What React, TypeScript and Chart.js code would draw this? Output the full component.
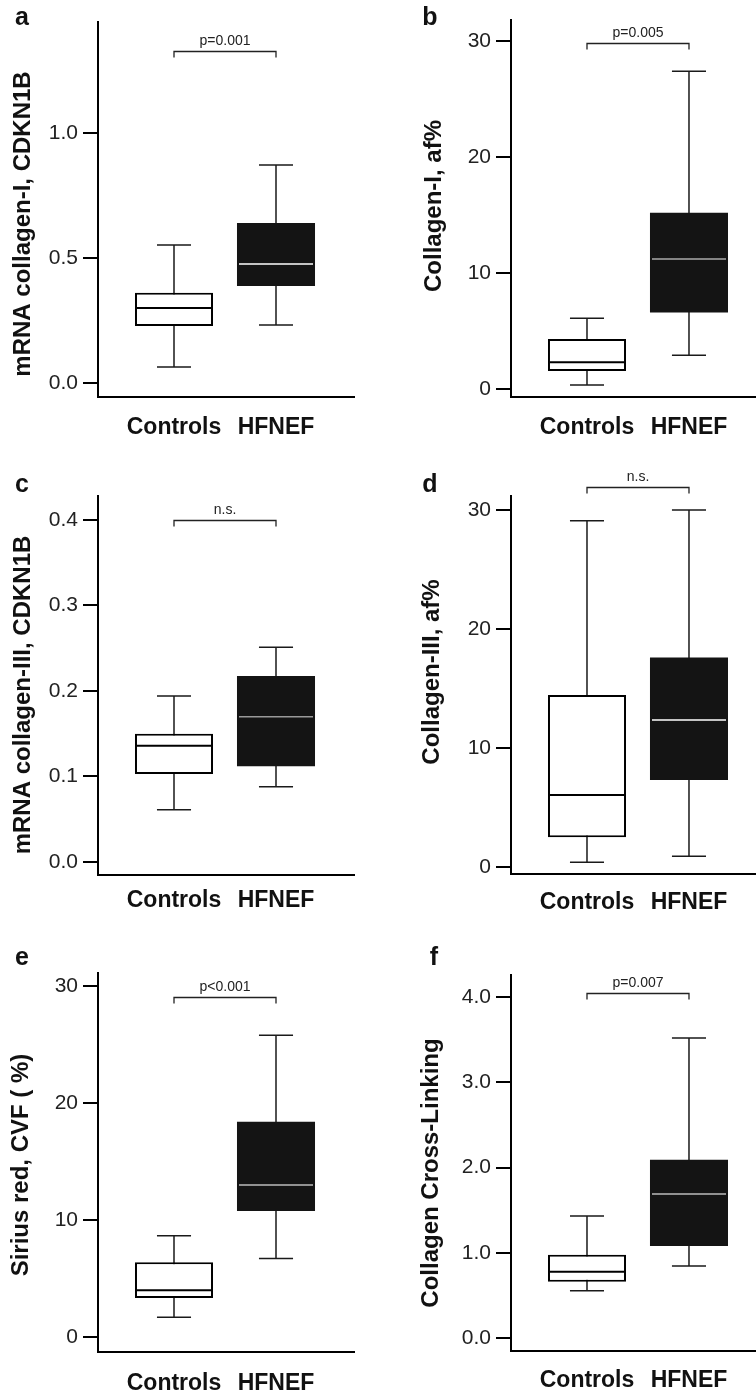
import React, { useEffect, useRef } from 'react';
import { Chart, registerables } from 'chart.js';

Chart.register(...registerables);

// ---- data ----
const GROUPS = ['Controls', 'HFNEF'];
// five-number summaries: [min, Q1, median, Q3, max]
const A_CONTROLS = [0.064, 0.228, 0.3, 0.361, 0.552];
const A_HFNEF = [0.232, 0.388, 0.476, 0.64, 0.872];
const A_TICKS = [0, 0.5, 1.0];

const B_CONTROLS = [0.35, 1.55, 2.3, 4.3, 6.1];
const B_HFNEF = [2.9, 6.6, 11.2, 15.2, 27.4];
const B_TICKS = [0, 10, 20, 30];

const C_CONTROLS = [0.061, 0.103, 0.136, 0.15, 0.194];
const C_HFNEF = [0.088, 0.112, 0.17, 0.2175, 0.251];
const C_TICKS = [0, 0.1, 0.2, 0.3, 0.4];

const D_CONTROLS = [0.4, 2.5, 6.05, 14.45, 29.1];
const D_HFNEF = [0.9, 7.3, 12.35, 17.6, 30.0];
const D_TICKS = [0, 10, 20, 30];

const E_CONTROLS = [1.7, 3.33, 4.0, 6.4, 8.66];
const E_HFNEF = [6.7, 10.77, 13.0, 18.4, 25.8];
const E_TICKS = [0, 10, 20, 30];

const F_CONTROLS = [0.555, 0.66, 0.777, 0.977, 1.43];
const F_HFNEF = [0.845, 1.08, 1.69, 2.09, 3.52];
const F_TICKS = [0, 1, 2, 3, 4];

const P_LABELS = ['p=0.001', 'p=0.005', 'n.s.', 'n.s.', 'p<0.001', 'p=0.007'];
const BRACKET_LEVELS = [1.328, 29.83, 0.4, 31.93, 29.06, 4.047];

// ---- layout / style ----
type Panel = {
  letter: string; title: string; controls: number[]; hfnef: number[];
  ticks: number[]; dec: number; yMin: number; yMax: number; xMax: number;
  p: string; bracket: number; median: string;
  left: number; top: number; w: number; h: number;
  padTop: number; padRight: number; yW: number; xH: number; xPad: number;
  letterX: number; letterY: number; titleX: number; titleY: number;
};

const FONT = '"Liberation Sans", Arial, Helvetica, sans-serif';
const CAP = 0.167;

const PANELS: Panel[] = [
  { letter: 'a', title: 'mRNA collagen-I, CDKN1B', controls: A_CONTROLS, hfnef: A_HFNEF, ticks: A_TICKS, dec: 1,
    yMin: -0.056, yMax: 1.444, xMax: 2.7647, p: P_LABELS[0], bracket: BRACKET_LEVELS[0], median: '#ffffff',
    left: 0, top: 0, w: 378, h: 460, padTop: 22, padRight: 24, yW: 98, xH: 63, xPad: 17,
    letterX: 22, letterY: 25, titleX: 23, titleY: 224 },
  { letter: 'b', title: 'Collagen-I, af%', controls: B_CONTROLS, hfnef: B_HFNEF, ticks: B_TICKS, dec: 0,
    yMin: -0.69, yMax: 31.81, xMax: 2.657, p: P_LABELS[1], bracket: BRACKET_LEVELS[1], median: '#aaaaaa',
    left: 378, top: 0, w: 378, h: 460, padTop: 20, padRight: 0, yW: 133, xH: 63, xPad: 17,
    letterX: 52, letterY: 25, titleX: 56, titleY: 206 },
  { letter: 'c', title: 'mRNA collagen-III, CDKN1B', controls: C_CONTROLS, hfnef: C_HFNEF, ticks: C_TICKS, dec: 1,
    yMin: -0.0152, yMax: 0.428, xMax: 2.7647, p: P_LABELS[2], bracket: BRACKET_LEVELS[2], median: '#999999',
    left: 0, top: 460, w: 378, h: 470, padTop: 36, padRight: 24, yW: 98, xH: 55, xPad: 12,
    letterX: 22, letterY: 32, titleX: 23, titleY: 235 },
  { letter: 'd', title: 'Collagen-III, af%', controls: D_CONTROLS, hfnef: D_HFNEF, ticks: D_TICKS, dec: 0,
    yMin: -0.59, yMax: 31.18, xMax: 2.657, p: P_LABELS[3], bracket: BRACKET_LEVELS[3], median: '#ffffff',
    left: 378, top: 460, w: 378, h: 470, padTop: 36, padRight: 0, yW: 133, xH: 56, xPad: 15,
    letterX: 52, letterY: 32, titleX: 54, titleY: 212 },
  { letter: 'e', title: 'Sirius red, CVF ( %)', controls: E_CONTROLS, hfnef: E_HFNEF, ticks: E_TICKS, dec: 0,
    yMin: -1.28, yMax: 31.11, xMax: 2.7647, p: P_LABELS[4], bracket: BRACKET_LEVELS[4], median: '#bbbbbb',
    left: 0, top: 930, w: 378, h: 463, padTop: 43, padRight: 24, yW: 98, xH: 41, xPad: 18,
    letterX: 22, letterY: 35, titleX: 21, titleY: 235 },
  { letter: 'f', title: 'Collagen Cross-Linking', controls: F_CONTROLS, hfnef: F_HFNEF, ticks: F_TICKS, dec: 1,
    yMin: -0.152, yMax: 4.258, xMax: 2.657, p: P_LABELS[5], bracket: BRACKET_LEVELS[5], median: '#bbbbbb',
    left: 378, top: 930, w: 378, h: 463, padTop: 45, padRight: 0, yW: 133, xH: 42, xPad: 16,
    letterX: 56, letterY: 35, titleX: 53, titleY: 243 },
];

function makePlugin(p: Panel) {
  return {
    id: 'boxExtras',
    beforeDatasetsDraw(chart: any) {
      const { ctx, scales: { x, y } } = chart;
      ctx.save();
      ctx.strokeStyle = '#1a1a1a';
      ctx.lineWidth = 1.5;
      [p.controls, p.hfnef].forEach((s, i) => {
        const cx = x.getPixelForValue(i + 1);
        const x0 = x.getPixelForValue(i + 1 - CAP);
        const x1 = x.getPixelForValue(i + 1 + CAP);
        const yLo = y.getPixelForValue(s[0]);
        const yHi = y.getPixelForValue(s[4]);
        ctx.beginPath();
        ctx.moveTo(cx, yLo); ctx.lineTo(cx, yHi);
        ctx.moveTo(x0, yLo); ctx.lineTo(x1, yLo);
        ctx.moveTo(x0, yHi); ctx.lineTo(x1, yHi);
        ctx.stroke();
      });
      ctx.restore();
    },
    afterDatasetsDraw(chart: any) {
      const { ctx, scales: { x, y } } = chart;
      const meta = chart.getDatasetMeta(0);
      ctx.save();
      // medians
      [p.controls, p.hfnef].forEach((s, i) => {
        const el = meta.data[i];
        const { x: bx, width } = el.getProps(['x', 'width'], true);
        const my = y.getPixelForValue(s[2]);
        ctx.beginPath();
        ctx.strokeStyle = i === 0 ? '#000' : p.median;
        ctx.lineWidth = i === 0 ? 2 : 1.5;
        ctx.moveTo(bx - width / 2 + 2, my);
        ctx.lineTo(bx + width / 2 - 2, my);
        ctx.stroke();
      });
      // bracket
      const bx0 = x.getPixelForValue(1);
      const bx1 = x.getPixelForValue(2);
      const by = Math.round(y.getPixelForValue(p.bracket)) + 0.5;
      ctx.beginPath();
      ctx.strokeStyle = '#222';
      ctx.lineWidth = 1.3;
      ctx.moveTo(bx0, by + 6); ctx.lineTo(bx0, by); ctx.lineTo(bx1, by); ctx.lineTo(bx1, by + 6);
      ctx.stroke();
      ctx.fillStyle = '#222';
      ctx.font = `14px ${FONT}`;
      ctx.textAlign = 'center';
      ctx.textBaseline = 'middle';
      ctx.fillText(p.p, (bx0 + bx1) / 2, by - 10);
      // panel letter
      ctx.fillStyle = '#111';
      ctx.font = `bold 25px ${FONT}`;
      ctx.textBaseline = 'alphabetic';
      ctx.fillText(p.letter, p.letterX, p.letterY);
      // y title
      ctx.translate(p.titleX, p.titleY);
      ctx.rotate(-Math.PI / 2);
      ctx.font = `bold 24px ${FONT}`;
      ctx.textBaseline = 'middle';
      ctx.fillText(p.title, 0, 0);
      ctx.restore();
    },
  };
}

function PanelChart({ p }: { p: Panel }) {
  const ref = useRef<HTMLCanvasElement>(null);
  useEffect(() => {
    const chart = new Chart(ref.current as HTMLCanvasElement, {
      type: 'bar',
      data: {
        datasets: [{
          data: [
            { x: 1, y: [p.controls[1], p.controls[3]] },
            { x: 2, y: [p.hfnef[1], p.hfnef[3]] },
          ] as any,
          backgroundColor: ['#ffffff', '#141414'],
          borderColor: ['#000000', '#141414'],
          borderWidth: [2, 0] as any,
          borderSkipped: false,
          barPercentage: 0.765,
          categoryPercentage: 1,
        }],
      },
      options: {
        animation: false,
        responsive: false,
        maintainAspectRatio: false,
        devicePixelRatio: 1,
        events: [],
        layout: { padding: { left: 0, top: p.padTop, right: p.padRight, bottom: 0 } },
        plugins: { legend: { display: false }, tooltip: { enabled: false }, title: { display: false } },
        scales: {
          x: {
            type: 'linear',
            offset: false,
            bounds: 'data',
            min: 0.2549,
            max: p.xMax,
            grid: { display: false, drawTicks: false, offset: false },
            border: { display: true, color: '#000', width: 2 },
            afterBuildTicks: (s: any) => { s.ticks = GROUPS.map((_, i) => ({ value: i + 1 })); },
            afterFit: (s: any) => { s.height = p.xH; },
            ticks: {
              padding: p.xPad,
              color: '#111',
              font: { family: FONT, size: 23, weight: 'bold' },
              maxRotation: 0,
              autoSkip: false,
              callback: (v: any) => GROUPS[Math.round(v) - 1] ?? '',
            },
          },
          y: {
            type: 'linear',
            min: p.yMin,
            max: p.yMax,
            grid: { display: true, drawOnChartArea: false, drawTicks: true, tickLength: 15, color: '#000', lineWidth: 2 },
            border: { display: true, color: '#000', width: 2 },
            afterBuildTicks: (s: any) => { s.ticks = p.ticks.map((v) => ({ value: v })); },
            afterFit: (s: any) => { s.width = p.yW; },
            ticks: {
              padding: 5,
              color: '#222',
              font: { family: FONT, size: 21 },
              autoSkip: false,
              callback: (v: any) => Number(v).toFixed(p.dec),
            },
          },
        },
      } as any,
      plugins: [makePlugin(p)],
    });
    return () => chart.destroy();
  }, [p]);
  return (
    <canvas
      ref={ref}
      width={p.w}
      height={p.h}
      style={{ position: 'absolute', left: p.left, top: p.top, width: p.w, height: p.h }}
    />
  );
}

export default function App() {
  return (
    <div style={{ position: 'absolute', left: 0, top: 0, width: 756, height: 1393, background: '#fff', overflow: 'hidden' }}>
      {PANELS.map((p) => <PanelChart key={p.letter} p={p} />)}
    </div>
  );
}
